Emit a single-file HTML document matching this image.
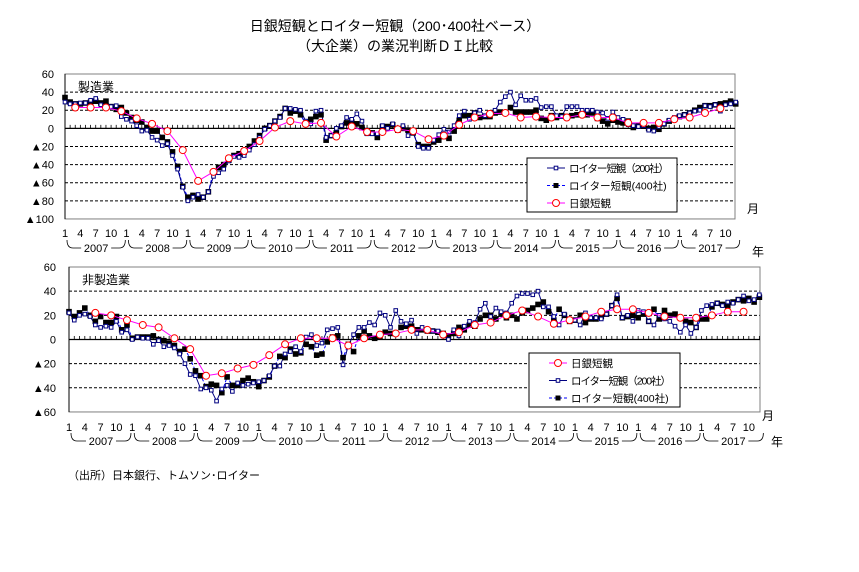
<!DOCTYPE html>
<html><head><meta charset="utf-8">
<style>
html,body{margin:0;padding:0;background:#fff;}
body{width:859px;height:567px;overflow:hidden;font-family:"Liberation Sans","Noto Sans CJK JP",sans-serif;}
svg text{font-family:"Liberation Sans","Noto Sans CJK JP",sans-serif;}
</style></head><body>
<svg id="s" width="859" height="567" xmlns="http://www.w3.org/2000/svg">
<text x="395" y="31" font-size="14" text-anchor="middle">日銀短観とロイター短観（200･400社ベース）</text>
<text x="395" y="51" font-size="14" text-anchor="middle">（大企業）の業況判断ＤＩ比較</text>
<text x="68" y="479" font-size="11">（出所）日本銀行、トムソン･ロイター</text>
</svg>
<script>
const NS="http://www.w3.org/2000/svg";const S=document.getElementById('s');
function el(t,a,txt){const e=document.createElementNS(NS,t);for(const k in a)e.setAttribute(k,a[k]);if(txt!==undefined)e.textContent=txt;S.appendChild(e);return e;}
const m400=[34,29,27,27,28,29,30,28,30,24,21,23, 17,12,9,7,1,-3,-3,-10,-15,-26,-42,-64, -76,-74,-78,-76,-70,-48,-43,-40,-35,-30,-28,-26, -20,-14,-8,0,3,8,13,22,17,19,15,5, 10,13,15,-13,-8,-5,2,6,7,5,1,-5, -5,-10,2,2,4,-2,0,-2,-5,-18,-20,-20, -15,-13,-9,-11,-3,9,14,14,17,12,13,13, 17,18,17,23,18,18,18,18,20,11,9,14, 12,14,13,14,15,16,15,17,11,8,5,9, 7,6,8,1,3,3,0,1,-1,5,8,10, 13,15,17,20,23,25,25,26,27,28,30,27];
const m200=[29,27,27,28,28,31,33,26,23,24,25,13, 10,8,3,-3,-2,-10,-13,-19,-17,-30,-45,-65, -80,-76,-73,-76,-70,-53,-49,-45,-36,-31,-32,-30, -24,-18,-10,-1,3,8,12,22,22,21,20,8, 5,19,20,-10,-8,0,3,12,10,16,8,-6, -6,-6,3,0,5,0,3,-8,-5,-20,-22,-22, -13,-7,-1,-4,3,14,19,10,17,20,14,16, 20,29,35,40,26,36,31,31,33,23,24,24, 14,13,24,24,24,20,20,20,18,17,11,18, 12,10,4,3,2,3,-2,-3,2,5,9,12, 14,15,17,19,20,25,24,26,19,26,27,29];
const mboj={2:23,5:23,8:23,11:19,14:11,17:5,20:-3,23:-24,26:-58,29:-48,32:-33,35:-25,38:-14,41:1,44:8,47:5,50:6,53:-9,56:2,59:-4,62:-4,65:-1,68:-3,71:-12,74:-8,77:4,80:12,83:16,86:17,89:12,92:13,95:12,98:12,101:15,104:12,107:12,110:6,113:6,116:6,119:10,122:12,125:17,128:22};
const n400=[23,19,22,26,20,15,19,14,14,19,8,12, 1,2,2,2,3,0,-1,-3,-5,-10,-8,-16, -26,-30,-39,-37,-38,-44,-31,-38,-38,-34,-32,-35, -39,-34,-31,-22,-14,-15,-8,-12,-11,-4,-6,-13, -12,-2,2,3,-15,-4,-10,3,7,3,1,2, 6,5,5,10,11,11,8,8,7,7,6,5, 3,5,10,8,12,11,17,20,20,17,21,18, 20,17,22,24,26,29,31,23,16,25,20,15, 16,20,14,17,17,19,21,28,34,18,19,20, 18,21,15,25,17,24,20,21,18,15,14,10, 17,17,27,30,29,28,31,33,32,34,31,35];
const n200=[22,16,20,21,19,12,10,11,10,15,6,8, 0,2,1,1,-4,-1,-6,-5,-7,-12,-20,-29, -30,-41,-40,-42,-51,-41,-38,-43,-36,-38,-37,-36, -35,-34,-30,-22,-22,-12,-10,-6,-10,2,4,-5, -3,8,9,10,-21,-5,4,10,10,14,12,22, 20,10,24,15,13,16,5,10,7,7,7,3, 0,8,3,11,15,14,25,30,19,26,23,22, 30,36,38,38,37,40,27,27,19,12,21,17, 16,12,22,18,18,17,21,28,37,18,20,15, 24,23,15,12,20,17,15,11,6,12,5,10, 24,28,29,30,28,31,30,33,36,32,33,37];
const nboj={5:22,8:20,11:16,14:12,17:10,20:1,23:-8,26:-30,29:-28,32:-24,35:-21,38:-13,41:-4,44:1,47:1,50:1,53:-5,56:1,59:4,62:5,65:8,68:8,71:4,74:6,77:12,80:14,83:20,86:24,89:19,92:13,95:16,98:19,101:23,104:25,107:25,110:22,113:19,116:18,119:18,122:20,125:23,128:23};

function chart(c){
  const X=i=>c.x0+i*c.st, Y=v=>c.yt+(60-v)*c.s;
  const yb=Y(c.ymin);
  for(let v=c.ymin;v<=60;v+=20){
    if(v===c.ymin||v===60||v===0)continue;
    el('line',{x1:c.x0,x2:c.x1,y1:Y(v),y2:Y(v),stroke:'#000','stroke-width':1,'stroke-dasharray':'3,2'});
  }
  el('rect',{x:c.x0,y:c.yt,width:c.x1-c.x0,height:yb-c.yt,fill:'none',stroke:'#808080','stroke-width':1});
  el('line',{x1:c.x0,x2:c.x0,y1:c.yt,y2:yb,stroke:'#000'});
  el('line',{x1:c.x0,x2:c.x1,y1:Y(0),y2:Y(0),stroke:'#000','stroke-width':1.3});
  for(let i=0;i<=132;i++){const x=X(i);if(x>c.x1)break;el('line',{x1:x,x2:x,y1:Y(0),y2:Y(0)-3.5,stroke:'#000','stroke-width':0.8});}
  for(let v=c.ymin;v<=60;v+=20){
    el('text',{x:c.lx,y:Y(v)+4,'font-size':11,'text-anchor':'end'},(v<0?'▲':'')+Math.abs(v));
  }
  el('text',{x:c.x0+13,y:c.yt+17,'font-size':12},c.name);
  for(let y=0;y<11;y++){[1,4,7,10].forEach(m=>{const i=y*12+m-1;el('text',{x:X(i),y:c.my,'font-size':11,'text-anchor':'middle'},String(m));});
    const xs=X(y*12)+2, xe=X(y*12+11)+4, yy=c.yy, xm=(xs+xe)/2;
    el('path',{d:`M${xs},${yy-8} Q${xs},${yy} ${xs+6},${yy} L${xe-6},${yy} Q${xe},${yy} ${xe},${yy-8}`,fill:'none',stroke:'#000','stroke-width':0.8});
    el('rect',{x:xm-15,y:yy-7,width:30,height:13,fill:'#fff'});
    el('text',{x:xm,y:yy+4,'font-size':11,'text-anchor':'middle'},String(2007+y));
  }
  el('text',{x:c.mx,y:c.mly,'font-size':12},'月');
  el('text',{x:c.yx,y:c.yly,'font-size':12},'年');
  const pts=a=>a.map((v,i)=>X(i)+','+Y(v)).join(' ');
  el('polyline',{points:pts(c.r400),fill:'none',stroke:'#0000ff','stroke-width':1,'stroke-dasharray':'3,2'});
  el('polyline',{points:pts(c.r200),fill:'none',stroke:'#000080','stroke-width':1});
  c.r400.forEach((v,i)=>el('rect',{x:X(i)-2.8,y:Y(v)-2.8,width:5.6,height:5.6,fill:'#000'}));
  c.r200.forEach((v,i)=>el('rect',{x:X(i)-1.8,y:Y(v)-1.8,width:3.6,height:3.6,fill:'#fff',stroke:'#000080','stroke-width':1}));
  const bk=Object.keys(c.boj).map(Number);
  el('polyline',{points:bk.map(i=>X(i)+','+Y(c.boj[i])).join(' '),fill:'none',stroke:'#ff00ff','stroke-width':1});
  bk.forEach(i=>el('circle',{cx:X(i),cy:Y(c.boj[i]),r:3.5,fill:'#fff',stroke:'#ff0000','stroke-width':1}));
  const L=c.leg;
  el('rect',{x:L.x,y:L.y,width:L.w,height:L.h,fill:'#fff',stroke:'#000','stroke-width':1});
  L.items.forEach((t,k)=>{const yy=L.y+10+k*17.5, lx=L.x+20;
    if(t==='boj'){el('line',{x1:lx,x2:lx+18,y1:yy,y2:yy,stroke:'#ff00ff'});el('circle',{cx:lx+9,cy:yy,r:3.5,fill:'#fff',stroke:'#ff0000'});el('text',{x:lx+22,y:yy+4,'font-size':10.5},'日銀短観');}
    if(t==='200'){el('line',{x1:lx,x2:lx+18,y1:yy,y2:yy,stroke:'#000080'});el('rect',{x:lx+7.2,y:yy-1.8,width:3.6,height:3.6,fill:'#fff',stroke:'#000080'});el('text',{x:lx+22,y:yy+4,'font-size':10.5,textLength:100},'ロイター短観（200社）');}
    if(t==='400'){el('line',{x1:lx,x2:lx+18,y1:yy,y2:yy,stroke:'#0000ff','stroke-dasharray':'3,2'});el('rect',{x:lx+6.5,y:yy-2.5,width:5,height:5,fill:'#000'});el('text',{x:lx+22,y:yy+4,'font-size':10.5},'ロイター短観(400社)');}
  });
}
chart({x0:65,x1:735,st:5.12,yt:74,s:0.906,ymin:-100,lx:54,name:'製造業',my:237,yy:248,mx:747,mly:213,yx:752,yly:256,
  r400:m400,r200:m200,boj:mboj,leg:{x:527,y:158,w:150,h:54,items:['200','400','boj']}});
chart({x0:69,x1:760,st:5.27,yt:267,s:1.208,ymin:-60,lx:56,name:'非製造業',my:431,yy:441,mx:762,mly:420,yx:771,yly:446,
  r400:n400,r200:n200,boj:nboj,leg:{x:529,y:353,w:151,h:54,items:['boj','200','400']}});
</script>
</body></html>
